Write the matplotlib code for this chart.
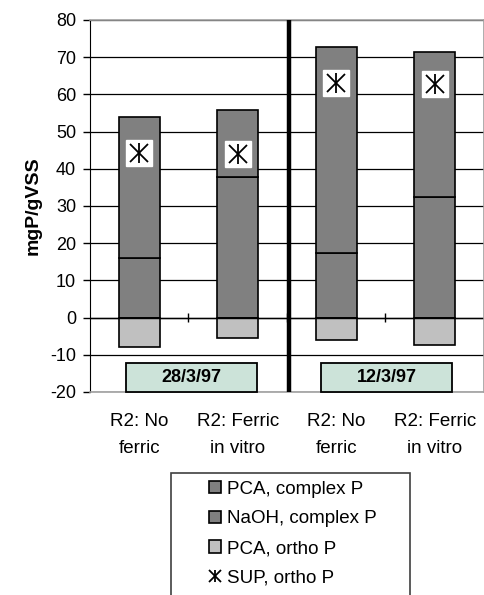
import numpy as np
import matplotlib
matplotlib.use("Agg")
import matplotlib.pyplot as plt
from matplotlib.patches import Patch, Rectangle
from matplotlib.lines import Line2D
from matplotlib.legend_handler import HandlerTuple

plt.rcParams['font.family'] = ['Liberation Sans', 'DejaVu Sans']
plt.rcParams['axes.unicode_minus'] = False

# phosphorus fractions per sample (mgP/gVSS)
categories = ["R2: No\nferric", "R2: Ferric\nin vitro", "R2: No\nferric", "R2: Ferric\nin vitro"]
pca_complex = [15.9, 37.7, 17.5, 32.4]
naoh_complex = [37.9, 18.0, 55.3, 38.9]
pca_ortho = [-7.8, -5.5, -5.9, -7.4]
sup_ortho = [44.2, 44.0, 63.0, 62.9]
dates = ["28/3/97", "12/3/97"]

DARK = '#808080'
LIGHT = '#c0c0c0'
DATE_BG = '#cce3d9'

W, H = 485, 595
fig = plt.figure(figsize=(W / 100, H / 100), dpi=100)
ax = fig.add_axes([90 / W, 1 - 392 / H, 394 / W, 372 / H])

x = np.arange(len(categories))
bw = 0.415

ax.set_axisbelow(True)
ax.yaxis.grid(True, color='black', lw=0.9)

ax.bar(x, pca_complex, bw, color=DARK, edgecolor='black', lw=1.2, zorder=2)
ax.bar(x, naoh_complex, bw, bottom=pca_complex, color=DARK, edgecolor='black', lw=1.2, zorder=2)
ax.bar(x, pca_ortho, bw, color=LIGHT, edgecolor='black', lw=1.2, zorder=2)

# supernatant ortho-P markers: white box with a star on top
ax.plot(x, sup_ortho, 's', ms=19, mfc='white', mec='white', zorder=3)
ax.plot(x, sup_ortho, 'x', ms=13, mew=1.3, color='black', zorder=4)
ax.plot(x, sup_ortho, '|', ms=15, mew=1.3, color='black', zorder=4)

# zero line with small category ticks
ax.axhline(0, color='black', lw=1.0, zorder=2.5)
ax.vlines([0.5, 1.5, 2.5], -1.3, 1.3, color='black', lw=1.0, zorder=2.5)

# separator between the two sampling dates
ax.axvline(1.52, color='black', lw=3.2, zorder=5)

# date boxes
for cx, d in zip([0.53, 2.51], dates):
    ax.add_patch(Rectangle((cx - 0.668, -20), 1.336, 7.9, facecolor=DATE_BG,
                           edgecolor='black', lw=1.3, zorder=6, clip_on=False))
    ax.text(cx, -16.05, d, ha='center', va='center', fontsize=13,
            fontweight='bold', zorder=7)

ax.set_xlim(-0.5, 3.5)
ax.set_ylim(-20, 80)
ax.set_yticks(np.arange(-20, 81, 10))
ax.tick_params(axis='y', length=5, width=1, pad=5, labelsize=13)
ax.set_xticks(x)
ax.set_xticklabels(categories, fontsize=13.5, linespacing=1.8)
ax.tick_params(axis='x', length=0, pad=15)

ax.spines['left'].set_color('black')
for s in ['top', 'right', 'bottom']:
    ax.spines[s].set_color('#a0a0a0')
    ax.spines[s].set_linewidth(1.2)

ax.set_ylabel('mgP/gVSS', fontsize=14, fontweight='bold', labelpad=6)

# legend with a frame running off the bottom edge
fig.patches.append(Rectangle((171 / W, -0.05), 239 / W, 0.05 + 1 - 473 / H,
                             transform=fig.transFigure, facecolor='white',
                             edgecolor='#404040', lw=1.2))
star = (Line2D([], [], marker='x', ls='none', ms=8, mew=1.3, color='black'),
        Line2D([], [], marker='|', ls='none', ms=9, mew=1.3, color='black'))
handles = [Patch(fc=DARK, ec='black', lw=1.2),
           Patch(fc=DARK, ec='black', lw=1.2),
           Patch(fc=LIGHT, ec='black', lw=1.2),
           star]
labels = ['PCA, complex P', 'NaOH, complex P', 'PCA, ortho P', 'SUP, ortho P']
fig.legend(handles, labels, loc='upper left', bbox_to_anchor=(203 / W, 1 - 475 / H),
           frameon=False, fontsize=13.5, handlelength=0.65, handleheight=0.65,
           handletextpad=0.35, labelspacing=0.68, borderaxespad=0, borderpad=0.3,
           handler_map={tuple: HandlerTuple(ndivide=1)})

fig.savefig('out.png', dpi=100)
